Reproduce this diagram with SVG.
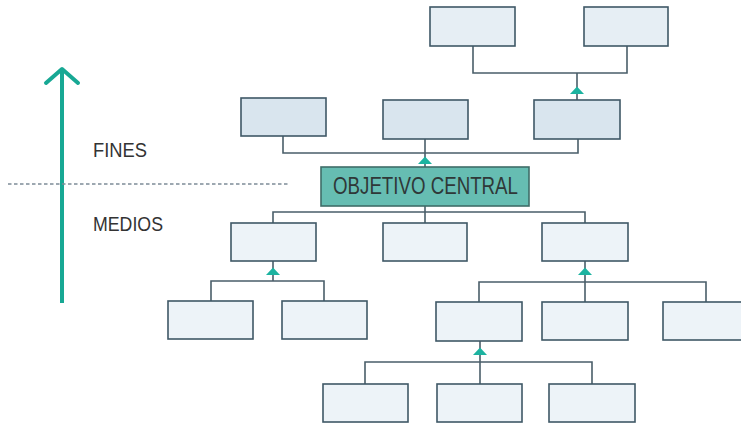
<svg xmlns="http://www.w3.org/2000/svg" width="741" height="426" viewBox="0 0 741 426">
<style>
.box{stroke:#3f5866;stroke-width:1.6}
.b1{fill:#e6eef4}
.b2{fill:#d9e5ee}
.b3{fill:#edf3f8}
.con{fill:none;stroke:#4a5e69;stroke-width:1.6}
.tri{fill:#1cb3a0}
.lbl{font-family:"Liberation Sans",Arial,sans-serif;fill:#333333;font-size:21px}
</style>
<rect width="741" height="426" fill="#ffffff"/>
<g id="axis">
<line x1="62" y1="303" x2="62" y2="71" stroke="#17a894" stroke-width="4"/>
<polyline points="46,83 62,69 78,83" fill="none" stroke="#17a894" stroke-width="4" stroke-linecap="round" stroke-linejoin="round"/>
<line x1="8" y1="184" x2="288" y2="184" stroke="#7d8c98" stroke-width="1.3" stroke-dasharray="3.5,2.5"/>
<text class="lbl" x="93" y="157" textLength="54" lengthAdjust="spacingAndGlyphs">FINES</text>
<text class="lbl" x="93" y="231" textLength="70" lengthAdjust="spacingAndGlyphs">MEDIOS</text>
</g>
<g id="connectors">
<polyline class="con" points="473,46 473,73 627,73 627,46"/>
<line class="con" x1="577" y1="73" x2="577" y2="100"/>
<polygon class="tri" points="577,86.5 584,94 570,94"/>
<polyline class="con" points="283,136 283,153 578,153 578,139"/>
<line class="con" x1="425" y1="139" x2="425" y2="167"/>
<polygon class="tri" points="425,156.5 432,164 418,164"/>
<line class="con" x1="425" y1="206" x2="425" y2="223"/>
<polyline class="con" points="273,223 273,212 585,212 585,223"/>
<line class="con" x1="273" y1="261" x2="273" y2="281"/>
<polygon class="tri" points="273,267.5 280,275 266,275"/>
<polyline class="con" points="211,301 211,281 324,281 324,301"/>
<line class="con" x1="585" y1="261" x2="585" y2="302"/>
<polygon class="tri" points="585,267.5 592,275 578,275"/>
<polyline class="con" points="479,302 479,282 706,282 706,302"/>
<line class="con" x1="480" y1="341" x2="480" y2="384"/>
<polygon class="tri" points="480,347.5 487,355 473,355"/>
<polyline class="con" points="365,384 365,362 592,362 592,384"/>
</g>
<g id="n-top1"><rect class="box b1" x="430" y="7" width="85" height="39"/></g>
<g id="n-top2"><rect class="box b1" x="584" y="7" width="84" height="39"/></g>
<g id="n-fin1"><rect class="box b2" x="241" y="98" width="85" height="38"/></g>
<g id="n-fin2"><rect class="box b2" x="383" y="100" width="85" height="39"/></g>
<g id="n-fin3"><rect class="box b2" x="534" y="100" width="86" height="39"/></g>
<g id="n-central">
<rect x="321" y="167" width="208" height="39" fill="#66bdb2" stroke="#3f6d68" stroke-width="1.6"/>
<text x="333" y="194" font-family="'Liberation Sans',Arial,sans-serif" font-size="24" fill="#2f3838" textLength="185" lengthAdjust="spacingAndGlyphs">OBJETIVO CENTRAL</text>
</g>
<g id="n-med1"><rect class="box b3" x="231" y="223" width="85" height="38"/></g>
<g id="n-med2"><rect class="box b3" x="383" y="223" width="84" height="38"/></g>
<g id="n-med3"><rect class="box b3" x="542" y="223" width="86" height="38"/></g>
<g id="n-med4"><rect class="box b3" x="168" y="301" width="85" height="38"/></g>
<g id="n-med5"><rect class="box b3" x="282" y="301" width="85" height="38"/></g>
<g id="n-med6"><rect class="box b3" x="436" y="302" width="86" height="39"/></g>
<g id="n-med7"><rect class="box b3" x="542" y="302" width="86" height="38"/></g>
<g id="n-med8"><rect class="box b3" x="663" y="302" width="90" height="38"/></g>
<g id="n-med9"><rect class="box b3" x="323" y="384" width="85" height="38"/></g>
<g id="n-med10"><rect class="box b3" x="437" y="384" width="85" height="38"/></g>
<g id="n-med11"><rect class="box b3" x="549" y="384" width="86" height="38"/></g>
</svg>
